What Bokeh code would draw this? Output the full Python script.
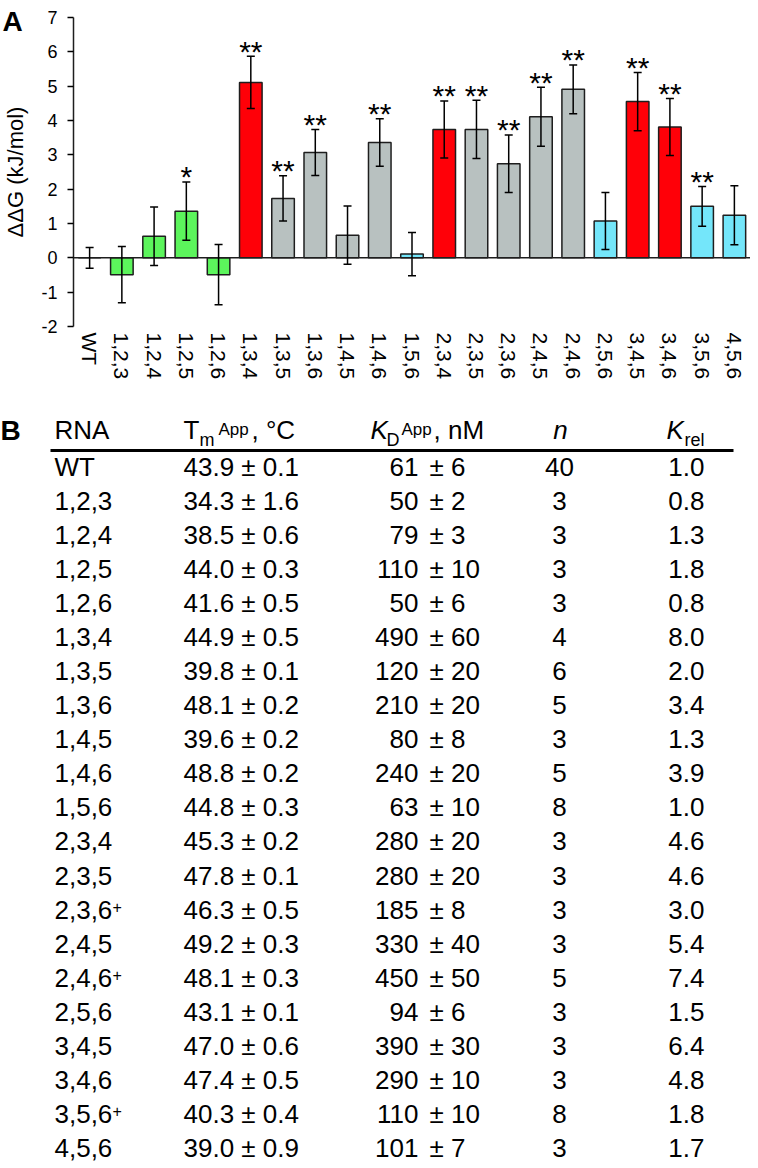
from bokeh.plotting import figure
from bokeh.models import (ColumnDataSource, FactorRange, Range1d, Whisker, TeeHead,
                          Span, FixedTicker, Label)
from bokeh.core.properties import value
from bokeh.embed import file_html
from bokeh.resources import INLINE

FONT = "Liberation Sans"

# ---------------- Panel A data ----------------
mutants = ["WT", "1,2,3", "1,2,4", "1,2,5", "1,2,6", "1,3,4", "1,3,5", "1,3,6",
           "1,4,5", "1,4,6", "1,5,6", "2,3,4", "2,3,5", "2,3,6", "2,4,5", "2,4,6",
           "2,5,6", "3,4,5", "3,4,6", "3,5,6", "4,5,6"]
ddg = [0.0, -0.49, 0.63, 1.36, -0.49, 5.11, 1.73, 3.07, 0.66, 3.36, 0.11,
       3.74, 3.74, 2.74, 4.11, 4.91, 1.07, 4.55, 3.81, 1.50, 1.24]
ddg_err = [0.30, 0.82, 0.85, 0.85, 0.88, 0.76, 0.66, 0.67, 0.85, 0.69, 0.63,
           0.83, 0.85, 0.84, 0.86, 0.71, 0.83, 0.85, 0.83, 0.58, 0.86]
groups = ["grey", "green", "green", "green", "green", "red", "grey", "grey",
          "grey", "grey", "cyan", "red", "grey", "grey", "grey", "grey",
          "cyan", "red", "red", "cyan", "cyan"]
signif = ["", "", "", "*", "", "**", "**", "**", "", "**", "",
          "**", "**", "**", "**", "**", "", "**", "**", "**", ""]
group_colors = {"green": "#5cf55c", "red": "#ff0008", "grey": "#b8c1c0", "cyan": "#74e6fa"}
y_ticks = [-2, -1, 0, 1, 2, 3, 4, 5, 6, 7]

# ---------------- Panel B data ----------------
rna_labels = ["WT", "1,2,3", "1,2,4", "1,2,5", "1,2,6", "1,3,4", "1,3,5", "1,3,6",
              "1,4,5", "1,4,6", "1,5,6", "2,3,4", "2,3,5", "2,3,6", "2,4,5", "2,4,6",
              "2,5,6", "3,4,5", "3,4,6", "3,5,6", "4,5,6"]
rna_plus = ["", "", "", "", "", "", "", "", "", "", "", "", "", "+", "", "+",
            "", "", "", "+", ""]
tm_val = [43.9, 34.3, 38.5, 44.0, 41.6, 44.9, 39.8, 48.1, 39.6, 48.8, 44.8,
          45.3, 47.8, 46.3, 49.2, 48.1, 43.1, 47.0, 47.4, 40.3, 39.0]
tm_err = [0.1, 1.6, 0.6, 0.3, 0.5, 0.5, 0.1, 0.2, 0.2, 0.2, 0.3,
          0.2, 0.1, 0.5, 0.3, 0.3, 0.1, 0.6, 0.5, 0.4, 0.9]
kd_val = [61, 50, 79, 110, 50, 490, 120, 210, 80, 240, 63,
          280, 280, 185, 330, 450, 94, 390, 290, 110, 101]
kd_err = [6, 2, 3, 10, 6, 60, 20, 20, 8, 20, 10,
          20, 20, 8, 40, 50, 6, 30, 10, 10, 7]
n_rep = [40, 3, 3, 3, 3, 4, 6, 5, 3, 5, 8, 3, 3, 3, 3, 5, 3, 3, 3, 8, 3]
k_rel = [1.0, 0.8, 1.3, 1.8, 0.8, 8.0, 2.0, 3.4, 1.3, 3.9, 1.0,
         4.6, 4.6, 3.0, 5.4, 7.4, 1.5, 6.4, 4.8, 1.8, 1.7]

W = 750
H1 = 413
H2 = 753

# ---------------- Panel A figure ----------------
p = figure(width=W, height=H1, x_range=FactorRange(*mutants), y_range=Range1d(-2, 7),
           output_backend="svg", toolbar_location=None,
           min_border_left=71, min_border_right=0, min_border_top=17, min_border_bottom=86)
p.x_range.range_padding = 0
p.outline_line_color = None
p.grid.visible = False

upper = [v + e for v, e in zip(ddg, ddg_err)]
lower = [v - e for v, e in zip(ddg, ddg_err)]
src = ColumnDataSource(dict(x=mutants, top=ddg, color=[group_colors[g] for g in groups],
                            upper=upper, lower=lower, star=signif))

p.vbar(x="x", top="top", bottom=0, width=0.7, fill_color="color",
       line_color="#1e1e1e", line_width=1.5, source=src)
p.add_layout(Span(location=0, dimension="width", line_color="#1e1e1e", line_width=1.5))
wh = Whisker(base="x", upper="upper", lower="lower", source=src,
             line_color="black", line_width=1.5, level="overlay",
             upper_head=TeeHead(size=8, line_color="black", line_width=1.5),
             lower_head=TeeHead(size=8, line_color="black", line_width=1.5))
p.add_layout(wh)
p.text(x="x", y="upper", text="star", source=src, text_align="center",
       text_baseline="middle", y_offset=-5, text_font=value(FONT),
       text_font_size="30px", text_color="black")

p.yaxis.ticker = FixedTicker(ticks=y_ticks)
p.yaxis.major_label_overrides = {t: str(t) for t in y_ticks}
p.yaxis.axis_label = "ΔΔG (kJ/mol)"
p.yaxis.axis_label_text_font = FONT
p.yaxis.axis_label_text_font_size = "22px"
p.yaxis.axis_label_text_font_style = "normal"
p.yaxis.axis_label_text_color = "black"
p.yaxis.axis_label_standoff = 10
p.yaxis.major_label_text_font = FONT
p.yaxis.major_label_text_font_size = "18px"
p.yaxis.major_label_text_color = "black"
p.yaxis.major_label_standoff = 10
p.yaxis.major_tick_out = 6
p.yaxis.major_tick_in = 0
p.yaxis.minor_tick_out = 0
p.yaxis.minor_tick_in = 0
p.yaxis.axis_line_width = 1.5
p.yaxis.major_tick_line_width = 1.5
p.yaxis.axis_line_color = "#1e1e1e"

p.xaxis.axis_line_color = None
p.xaxis.major_tick_line_color = None
p.xaxis.major_tick_out = 0
p.xaxis.major_tick_in = 0
p.xaxis.major_label_orientation = "vertical"
p.xaxis.major_label_text_font = FONT
p.xaxis.major_label_text_font_size = "21px"
p.xaxis.major_label_text_color = "black"
p.xaxis.major_label_standoff = 6

# panel letter "A" (placed in a side panel so it is not clipped to the frame)
p.add_layout(Label(x=0, y=6.88, x_offset=-71, text="A", text_font=FONT,
                   text_font_style="bold", text_font_size="28px", text_color="black",
                   text_baseline="middle", text_align="left"), "below")

# ---------------- Panel B figure (table) ----------------
t = figure(width=W, height=H2, x_range=Range1d(0, W), y_range=Range1d(H2, 0),
           output_backend="svg", toolbar_location=None,
           x_axis_location=None, y_axis_location=None, min_border=0)
t.grid.visible = False
t.outline_line_color = None

ROW0 = 53.4      # vertical centre of the first data row (px from table top)
ROW_STEP = 34.05
row_y = [ROW0 + ROW_STEP * i for i in range(len(rna_labels))]
tsrc = ColumnDataSource(dict(
    y=row_y,
    py=[y - 2.5 for y in row_y],
    rna=rna_labels,
    plus=rna_plus,
    tm=[f"{v:.1f} ± {e:.1f}" for v, e in zip(tm_val, tm_err)],
    kdv=[str(v) for v in kd_val],
    kde=[f"± {e}" for e in kd_err],
    n=[str(v) for v in n_rep],
    krel=[f"{v:.1f}" for v in k_rel],
))
common = dict(source=tsrc, text_font=value(FONT), text_font_size="26px",
              text_color="black", text_baseline="middle")
t.text(x=54, y="y", text="rna", text_align="left", **common)
t.text(x=112, y="py", text="plus", text_align="left", source=tsrc,
       text_font=value(FONT), text_font_size="16px", text_color="black",
       text_baseline="middle")
t.text(x=183, y="y", text="tm", text_align="left", **common)
t.text(x=418, y="y", text="kdv", text_align="right", **common)
t.text(x=429, y="y", text="kde", text_align="left", **common)
t.text(x=559, y="y", text="n", text_align="center", **common)
t.text(x=704, y="y", text="krel", text_align="right", **common)

# header pieces
hdr = ColumnDataSource(dict(
    x=[0, 54, 183, 199, 218, 251, 370, 386, 401, 433, 560, 666, 684],
    y=[17, 16.7, 16.7, 26.4, 16, 16.7, 16.7, 26.4, 16, 16.7, 16.7, 16.7, 26.4],
    text=["B", "RNA", "T", "m", "App", ", °C", "K", "D", "App", ", nM", "n", "K", "rel"],
    size=["28px", "26px", "26px", "18px", "17px", "26px", "26px", "18px", "17px", "26px",
          "26px", "26px", "18px"],
    style=["bold", "normal", "normal", "normal", "normal", "normal", "italic", "normal",
           "normal", "normal", "italic", "italic", "normal"],
    align=["left"] * 10 + ["center", "left", "left"],
))
t.text(x="x", y="y", text="text", source=hdr, text_font=value(FONT),
       text_font_size="size", text_font_style="style", text_align="align",
       text_color="black", text_baseline="middle")
t.segment(x0=50, y0=37, x1=733, y1=37, line_width=3, line_color="black")

open("out.html", "w").write(file_html([p, t], INLINE))
